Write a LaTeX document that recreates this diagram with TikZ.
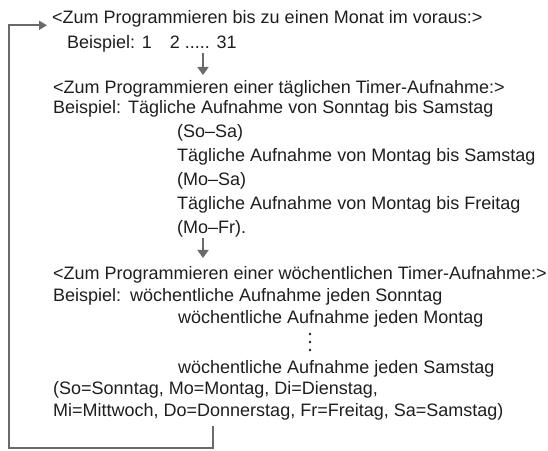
\documentclass[tikz,border=0pt]{standalone}
\usepackage{fontspec}
\setmainfont{Liberation Sans}
\usetikzlibrary{arrows.meta}
\usetikzlibrary{positioning}
\definecolor{txtgray}{HTML}{1E1E1E}
\definecolor{framegray}{HTML}{6A6A6A}

\begin{document}
\begin{tikzpicture}[x=1bp,y=-1bp,
    flow/.style={draw=framegray, line width=1.8bp, -{Triangle[length=8bp,width=11bp]}},
    loopline/.style={draw=framegray, line width=1.8bp, -{Triangle[length=8bp,width=9bp]}}]
    \useasboundingbox (0,0) rectangle (548,451);

        % text lines, use the tuple for location (base west)
        \begin{scope}[every node/.style={anchor=base west,inner sep=0pt,text=txtgray,
                      font=\fontsize{18bp}{22bp}\selectfont}]
        \node (monat) at (52,24) {<Zum Programmieren bis zu einen Monat im voraus:>};
        \node (bspmonat) at (67,49) {Beispiel: 1\hspace{1em}2 ..... 31};

        \node (taegl) at (53,94) {<Zum Programmieren einer täglichen Timer-Aufnahme:>};
        \node (bsptaegl) at (53,114) {Beispiel:};
        \node (soSa) at (128,114) {Tägliche Aufnahme von Sonntag bis Samstag};
        \node (soSaK) at (177,138) {(So–Sa)};
        \node (moSa) at (177,162) {Tägliche Aufnahme von Montag bis Samstag};
        \node (moSaK) at (177,186) {(Mo–Sa)};
        \node (moFr) at (177,210) {Tägliche Aufnahme von Montag bis Freitag};
        \node (moFrK) at (177,234) {(Mo–Fr).};

        \node (woech) at (53,279) {<Zum Programmieren einer wöchentlichen Timer-Aufnahme:>};
        \node (bspwoech) at (53,301) {Beispiel:};
        \node (wSo) at (130,301) {wöchentliche Aufnahme jeden Sonntag};
        \node (wMo) at (178,323) {wöchentliche Aufnahme jeden Montag};
        \node (wSa) at (178,373) {wöchentliche Aufnahme jeden Samstag};
        \node (legA) at (53,394) {(So=Sonntag, Mo=Montag, Di=Dienstag,};
        \node (legB) at (53,416) {Mi=Mittwoch, Do=Donnerstag, Fr=Freitag, Sa=Samstag)};
        \end{scope}

        % vertical dots
        \foreach \y in {334,342,350}
            \fill[txtgray] (310,\y) circle (1.3bp);

        % arrows between the blocks
        \coordinate (a1top) at (203,53);
        \coordinate (a1bot) at (203,75);
        \coordinate (a2top) at (203,238);
        \coordinate (a2bot) at (203,258);
        \path (a1top) edge[flow] (a1bot);
        \path (a2top) edge[flow] (a2bot);

        % back to the start
        \coordinate (back) at (213,426);
        \coordinate (corner) at (9,448);
        \draw[loopline] (back) |- (corner) |- ([xshift=-5bp,yshift=-1.3bp]monat.base west);

\end{tikzpicture}
\end{document}
